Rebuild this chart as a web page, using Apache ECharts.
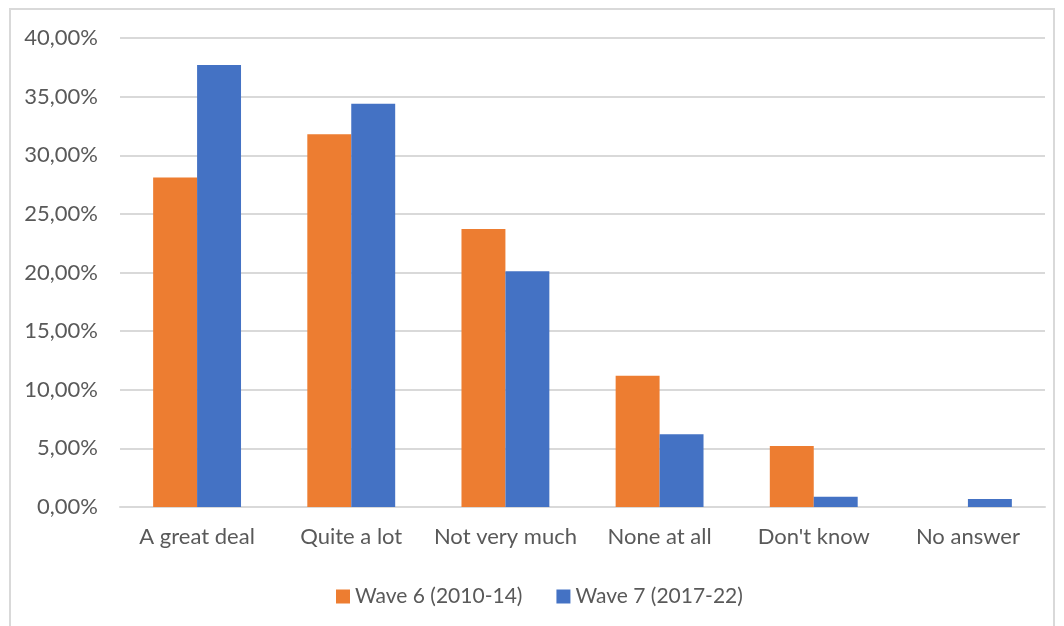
<!DOCTYPE html>
<html>
<head>
<meta charset="utf-8">
<script src="https://cdn.jsdelivr.net/npm/echarts@6/dist/echarts.min.js"></script>
<style>
  html, body { margin: 0; padding: 0; background: #fff; }
  #frame {
    position: absolute; left: 9px; top: 8px; width: 1046px; height: 660px;
    border: 2px solid #d9d9d9; box-sizing: border-box;
  }
  #chart { position: absolute; left: 0; top: 0; width: 1064px; height: 626px; }
</style>
</head>
<body>
<div id="frame"></div>
<div id="chart"></div>
<script>
// categories and series values (percent)
const categories = ['A great deal', 'Quite a lot', 'Not very much', 'None at all', "Don't know", 'No answer'];
const wave6 = [28.1, 31.8, 23.7, 11.2, 5.2, 0];
const wave7 = [37.7, 34.4, 20.1, 6.2, 0.88, 0.68];
const seriesNames = ['Wave 6 (2010-14)', 'Wave 7 (2017-22)'];

const font = 'Lato, "Open Sans", sans-serif';

const chart = echarts.init(document.getElementById('chart'));

chart.setOption({
  backgroundColor: 'transparent',
  animation: false,
  textStyle: { fontFamily: font },
  grid: { left: 120, right: 19, top: 38, bottom: 119 },
  legend: {
    top: 581,
    left: 331,
    itemWidth: 14,
    itemHeight: 14,
    itemGap: 34,
    icon: 'rect',
    textStyle: { fontSize: 21, color: '#595959', fontFamily: font },
    data: seriesNames
  },
  xAxis: {
    type: 'category',
    data: categories,
    axisLine: { lineStyle: { color: '#d9d9d9', width: 2 } },
    axisTick: { show: false },
    axisLabel: { interval: 0, fontSize: 22, color: '#595959', margin: 19 }
  },
  yAxis: {
    type: 'value',
    min: 0,
    max: 40,
    interval: 5,
    axisLine: { show: false },
    axisTick: { show: false },
    splitLine: { lineStyle: { color: '#d9d9d9', width: 2 } },
    axisLabel: {
      fontSize: 22,
      color: '#595959',
      margin: 22,
      formatter: v => v.toFixed(2).replace('.', ',') + '%'
    }
  },
  series: [
    {
      name: seriesNames[0],
      type: 'bar',
      data: wave6,
      barGap: '0%',
      barCategoryGap: '43%',
      itemStyle: { color: '#ed7d31' }
    },
    {
      name: seriesNames[1],
      type: 'bar',
      data: wave7,
      itemStyle: { color: '#4472c4' }
    }
  ]
});
</script>
</body>
</html>
